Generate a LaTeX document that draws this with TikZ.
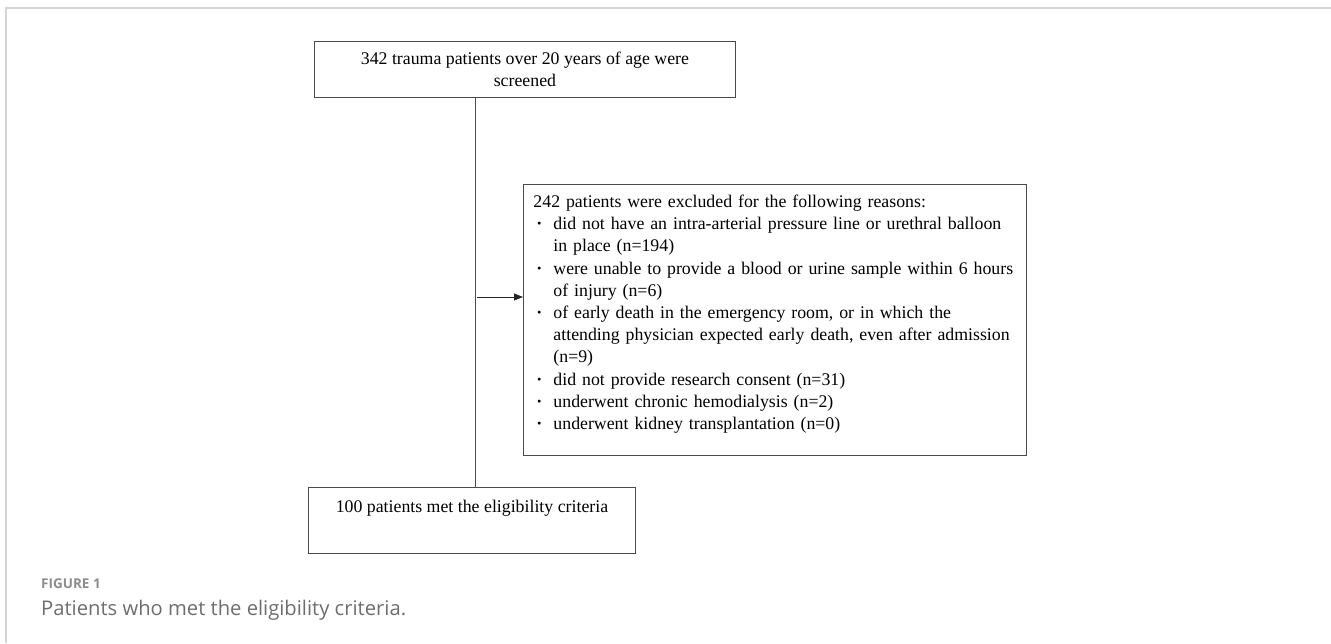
\documentclass[tikz,border=0pt]{standalone}
\usepackage{fontspec}
\setmainfont{Liberation Serif}
\newfontfamily\capfont{Open Sans}
\usetikzlibrary{arrows.meta, positioning}
\definecolor{boxline}{HTML}{4A4A4A}
\definecolor{framegray}{HTML}{D4D4D4}
\definecolor{capgray}{HTML}{6E6E6E}
\definecolor{labelgray}{HTML}{8C8C8C}
\newcommand{\bul}{\makebox[20pt][l]{\hspace{3pt}\textbf{\textperiodcentered}}}
\newcommand{\ind}{\hspace*{20pt}}

\begin{document}
\begin{tikzpicture}[
    x=1pt, y=-1pt,
    box/.style={rectangle, draw=boxline, line width=0.9pt, inner sep=0pt, font=\fontsize{17.8}{22.2}\selectfont},
    link/.style={draw=boxline, line width=0.8pt},
    arrow/.style={draw=black!85, line width=0.8pt, -{Triangle[length=9pt, width=7pt]}}
]
\useasboundingbox (0,0) rectangle (1331,643);

% Frame
\draw[framegray, line width=1.8pt] (1331,8) -- (6,8) -- (6,643);

% Nodes
\node (screen) [box, anchor=north west, minimum width=421pt, minimum height=56pt, align=center] at (314,41) {342 trauma patients over 20 years of age were\\ screened};
\node (excl) [box, anchor=north west, text width=483pt, inner xsep=10pt, inner ysep=0pt, align=left] at (523,184) {\rule{0pt}{23pt}242 patients were excluded for the following reasons:\\
\bul did not have an intra-arterial pressure line or urethral balloon\\
\ind in place (n=194)\\
\bul were unable to provide a blood or urine sample within 6 hours\\
\ind of injury (n=6)\\
\bul of early death in the emergency room, or in which the\\
\ind attending physician expected early death, even after admission\\
\ind (n=9)\\
\bul did not provide research consent (n=31)\\
\bul underwent chronic hemodialysis (n=2)\\
\bul underwent kidney transplantation (n=0)\rule[-26pt]{0pt}{26pt}};
\node (elig) [box, anchor=north west, minimum width=327pt, minimum height=66pt, align=center] at (308,487) {100 patients met the eligibility criteria\\ \strut};
\coordinate (split) at (475,297);

% Arrows
\draw [link] (split |- screen.south) -- (split |- elig.north);
\draw [arrow] ([xshift=2pt]split) -- (split -| excl.west);

% Caption
\node (figlabel) [anchor=base west, inner sep=0pt, text=labelgray, font=\capfont\bfseries\fontsize{13.5}{15}\selectfont] at (41,588) {FIGURE 1};
\node (caption) [anchor=base west, inner sep=0pt, text=capgray, font=\capfont\fontsize{20.2}{24}\selectfont] at (41,615) {Patients who met the eligibility criteria.};
\end{tikzpicture}
\end{document}
